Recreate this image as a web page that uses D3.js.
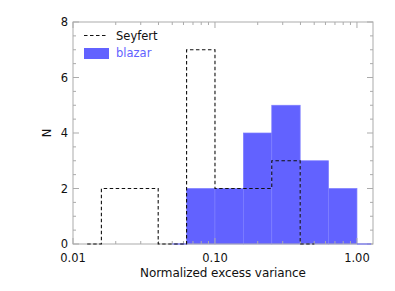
<!DOCTYPE html>
<html>
<head>
<meta charset="utf-8">
<script src="https://cdn.jsdelivr.net/npm/d3@7"></script>
<style>
  body { margin: 0; background: #fff; }
  text { font-family: "DejaVu Sans", sans-serif; }
</style>
</head>
<body>
<svg id="chart"></svg>
<script>
// histogram bins, lower edge in log10(excess variance), width 0.2 dex
const binWidth = 0.2;
const blazarBins = [-1.2, -1.0, -0.8, -0.6, -0.4, -0.2];
const blazarCounts = [2, 2, 4, 5, 3, 2];
const seyfertBins = [-1.8, -1.6, -1.4, -1.2, -1.0, -0.8, -0.6];
const seyfertCounts = [2, 2, 0, 7, 2, 2, 3];
const xTickValues = [0.01, 0.1, 1];
const xTickLabels = ["0.01", "0.10", "1.00"];
const yTickValues = [0, 2, 4, 6, 8];

const W = 395, H = 291;
const margin = { top: 22, right: 22, bottom: 47, left: 73 };
const frameColor = "#ababab";
const blue = "#6262ff";

const svg = d3.select("#chart").attr("width", W).attr("height", H);

const x = d3.scaleLog().domain([0.01, Math.pow(10, 0.113)]).range([margin.left, W - margin.right]);
const y = d3.scaleLinear().domain([0, 8]).range([H - margin.bottom, margin.top]);
const lx = v => x(Math.pow(10, v));

// blazar filled bars
svg.append("g").selectAll("rect")
  .data(blazarBins)
  .join("rect")
  .attr("x", d => lx(d))
  .attr("width", d => lx(d + binWidth) - lx(d))
  .attr("y", (d, i) => y(blazarCounts[i]))
  .attr("height", (d, i) => y(0) - y(blazarCounts[i]))
  .attr("fill", blue)
  .attr("stroke", "#7e7eff")
  .attr("stroke-width", 0.7);

// frame and ticks
const g = svg.append("g");
g.append("rect")
  .attr("x", margin.left).attr("y", margin.top)
  .attr("width", W - margin.left - margin.right)
  .attr("height", H - margin.top - margin.bottom)
  .attr("fill", "none").attr("stroke", frameColor);

const xMinor = [];
[0.01, 0.1, 1].forEach(dec => {
  for (let k = 2; k <= 9; k++) if (dec * k <= x.domain()[1]) xMinor.push(dec * k);
});
const yMinor = d3.range(0, 8.01, 0.5).filter(v => v % 2 !== 0);

function tick(x1, y1, x2, y2) {
  g.append("line").attr("x1", x1).attr("y1", y1).attr("x2", x2).attr("y2", y2)
    .attr("stroke", frameColor);
}
xTickValues.forEach(v => { tick(x(v), y(0), x(v), y(0) - 6); tick(x(v), y(8), x(v), y(8) + 6); });
xMinor.forEach(v => { tick(x(v), y(0), x(v), y(0) - 3); tick(x(v), y(8), x(v), y(8) + 3); });
yTickValues.forEach(v => { tick(x.range()[0], y(v), x.range()[0] + 6, y(v)); tick(x.range()[1], y(v), x.range()[1] - 6, y(v)); });
yMinor.forEach(v => { tick(x.range()[0], y(v), x.range()[0] + 3, y(v)); tick(x.range()[1], y(v), x.range()[1] - 3, y(v)); });

// tick labels
svg.append("g").selectAll("text")
  .data(xTickValues)
  .join("text")
  .attr("x", d => x(d)).attr("y", 262)
  .attr("text-anchor", "middle").attr("font-size", 11.5).attr("fill", "#111")
  .text((d, i) => xTickLabels[i]);

svg.append("g").selectAll("text")
  .data(yTickValues)
  .join("text")
  .attr("x", 68).attr("y", d => y(d) + 4)
  .attr("text-anchor", "end").attr("font-size", 11.5).attr("fill", "#111")
  .text(d => d);

svg.append("text")
  .attr("x", (x.range()[0] + x.range()[1]) / 2).attr("y", 277)
  .attr("text-anchor", "middle").attr("font-size", 12).attr("fill", "#111")
  .attr("textLength", 166)
  .text("Normalized excess variance");

svg.append("text")
  .attr("transform", `translate(51, ${(y(0) + y(8)) / 2}) rotate(-90)`)
  .attr("text-anchor", "middle").attr("font-size", 11.5).attr("fill", "#111")
  .text("N");

// blazar zero-level ends
const bLo = blazarBins[0], bHi = blazarBins[blazarBins.length - 1] + binWidth;
[[bLo - binWidth / 2, bLo], [bHi, bHi + binWidth / 2]].forEach(s => {
  svg.append("line")
    .attr("x1", lx(s[0])).attr("x2", Math.min(lx(s[1]), x.range()[1]))
    .attr("y1", y(0)).attr("y2", y(0))
    .attr("stroke", blue).attr("stroke-width", 1);
});

// seyfert dashed step outline
const sLo = seyfertBins[0], sHi = seyfertBins[seyfertBins.length - 1] + binWidth;
const seyPts = [[sLo - binWidth / 2, 0]]
  .concat(seyfertBins.map((b, i) => [b, seyfertCounts[i]]))
  .concat([[sHi, 0], [sHi + binWidth / 2, 0]]);
svg.append("path")
  .datum(seyPts)
  .attr("fill", "none")
  .attr("stroke", "#111")
  .attr("stroke-width", 1.1)
  .attr("stroke-dasharray", "3.5,2.5")
  .attr("d", d3.line().x(d => lx(d[0])).y(d => y(d[1])).curve(d3.curveStepAfter));

// legend
const leg = svg.append("g");
leg.append("line")
  .attr("x1", 84).attr("x2", 107).attr("y1", 35.5).attr("y2", 35.5)
  .attr("stroke", "#111").attr("stroke-width", 1.1).attr("stroke-dasharray", "3.5,2.5");
leg.append("text").attr("x", 116).attr("y", 39.5).attr("font-size", 11.5).attr("fill", "#111").text("Seyfert");
leg.append("rect").attr("x", 84).attr("y", 48).attr("width", 25).attr("height", 11).attr("fill", blue);
leg.append("text").attr("x", 116).attr("y", 57).attr("font-size", 11.5).attr("fill", blue).text("blazar");
</script>
</body>
</html>
